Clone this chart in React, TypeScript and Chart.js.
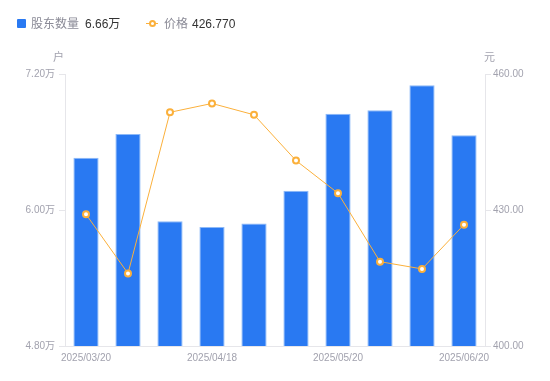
import React, { useEffect, useRef } from "react";
import { Chart, registerables } from "chart.js";

Chart.register(...registerables);

const categories = [
  "2025/03/20", "2025/03/31", "2025/04/10", "2025/04/18", "2025/04/30",
  "2025/05/09", "2025/05/20", "2025/05/30", "2025/06/10", "2025/06/20",
];
const holders = [6.46, 6.67, 5.9, 5.85, 5.88, 6.17, 6.85, 6.88, 7.1, 6.66];
const prices = [429.05, 416.0, 451.55, 453.5, 451.0, 440.9, 433.7, 418.6, 417.0, 426.77];
const shownTickIndexes = [0, 3, 6, 9];
const holderLegendLabel = "股东数量";
const holderLegendValue = "6.66万";
const priceLegendLabel = "价格";
const priceLegendValue = "426.770";

const FONT = '"Liberation Sans", Arial, "Noto Sans CJK SC", sans-serif';
const TICK_COLOR = "#a2a2ae";
const AXIS_COLOR = "#e6e6ea";
const BAR_COLOR = "#2979f2";
const LINE_COLOR = "#fbb03b";

export default function App() {
  const canvasRef = useRef<HTMLCanvasElement | null>(null);

  useEffect(() => {
    document.body.style.margin = "0";
    const canvas = canvasRef.current;
    if (!canvas) return;
    const chart = new Chart(canvas, {
      type: "bar",
      data: {
        labels: categories,
        datasets: [
          {
            type: "line",
            label: priceLegendLabel,
            data: prices,
            yAxisID: "yR",
            borderColor: LINE_COLOR,
            borderWidth: 1,
            pointRadius: 3,
            pointBorderWidth: 2,
            pointBackgroundColor: "#ffffff",
            pointBorderColor: LINE_COLOR,
            tension: 0,
            order: 0,
          },
          {
            type: "bar",
            label: holderLegendLabel,
            data: holders,
            yAxisID: "yL",
            backgroundColor: BAR_COLOR,
            borderColor: "#8db9f7",
            borderWidth: 1,
            barPercentage: 0.6,
            categoryPercentage: 1,
            order: 1,
          },
        ],
      },
      options: {
        animation: false,
        responsive: false,
        maintainAspectRatio: false,
        layout: { padding: { top: 74, bottom: 0, left: 0, right: 0 } },
        plugins: { legend: { display: false }, tooltip: { enabled: false } },
        scales: {
          x: {
            grid: { display: true, drawOnChartArea: false, drawTicks: false, color: AXIS_COLOR },
            border: { display: true, color: AXIS_COLOR },
            ticks: {
              autoSkip: false,
              maxRotation: 0,
              padding: 6,
              color: TICK_COLOR,
              font: { family: FONT, size: 10 },
              callback: (_v: any, i: number) => (shownTickIndexes.includes(i) ? categories[i] : ""),
            },
            afterFit: (s: any) => { s.height = 35; },
          },
          yL: {
            position: "left",
            min: 4.8,
            max: 7.2,
            grid: { drawOnChartArea: false, drawTicks: true, tickLength: 6, color: AXIS_COLOR },
            border: { display: true, color: AXIS_COLOR },
            ticks: {
              stepSize: 1.2,
              padding: 4,
              color: TICK_COLOR,
              font: { family: FONT, size: 10 },
              callback: (v: any) => Number(v).toFixed(2) + "万",
            },
            afterFit: (s: any) => { s.width = 65; },
          },
          yR: {
            position: "right",
            min: 400,
            max: 460,
            grid: { drawOnChartArea: false, drawTicks: true, tickLength: 6, color: AXIS_COLOR },
            border: { display: true, color: AXIS_COLOR },
            ticks: {
              stepSize: 30,
              padding: 2,
              color: TICK_COLOR,
              font: { family: FONT, size: 10 },
              callback: (v: any) => Number(v).toFixed(2),
            },
            afterFit: (s: any) => { s.width = 65; },
          },
        },
      },
    });
    return () => chart.destroy();
  }, []);

  const textBase: React.CSSProperties = {
    position: "absolute",
    fontFamily: FONT,
    whiteSpace: "nowrap",
    lineHeight: "14px",
  };

  return (
    <div style={{ position: "relative", width: 550, height: 381, background: "#fff" }}>
      <canvas ref={canvasRef} width={550} height={381} style={{ position: "absolute", left: 0, top: 0 }} />
      <div style={{ position: "absolute", left: 17, top: 19, width: 9, height: 9, background: BAR_COLOR, borderRadius: 1 }} />
      <div style={{ ...textBase, left: 31, top: 17, fontSize: 12, color: "#8a8a96" }}>{holderLegendLabel}</div>
      <div style={{ ...textBase, left: 85, top: 17, fontSize: 12, color: "#333" }}>{holderLegendValue}</div>
      <div style={{ position: "absolute", left: 146, top: 23, width: 12, height: 1, background: LINE_COLOR }} />
      <div style={{ position: "absolute", left: 149, top: 20, width: 3, height: 3, borderRadius: "50%", border: `2px solid ${LINE_COLOR}`, background: "#fff" }} />
      <div style={{ ...textBase, left: 164, top: 17, fontSize: 12, color: "#8a8a96" }}>{priceLegendLabel}</div>
      <div style={{ ...textBase, left: 192, top: 17, fontSize: 12, color: "#333" }}>{priceLegendValue}</div>
      <div style={{ ...textBase, left: 53, top: 50, fontSize: 11, color: TICK_COLOR }}>户</div>
      <div style={{ ...textBase, left: 484, top: 50, fontSize: 11, color: TICK_COLOR }}>元</div>
    </div>
  );
}
